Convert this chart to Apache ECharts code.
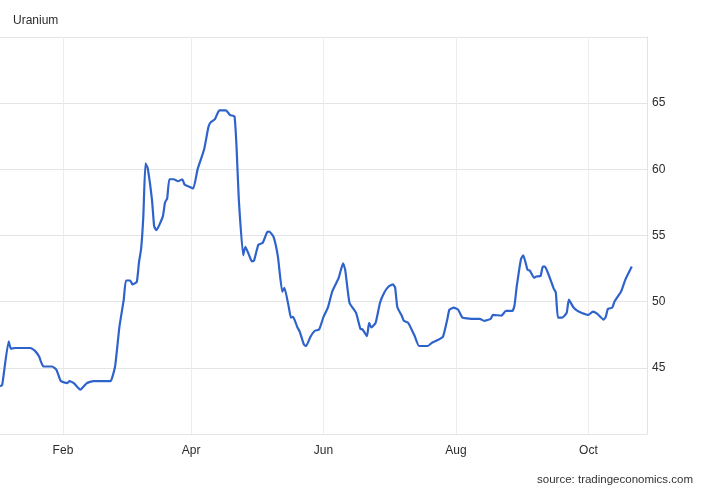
<!DOCTYPE html>
<html>
<head>
<meta charset="utf-8">
<script src="https://cdn.jsdelivr.net/npm/echarts@6/dist/echarts.min.js"></script>
<style>
html, body { margin: 0; padding: 0; background: #fff; }
#chart { width: 704px; height: 488px; }
</style>
</head>
<body>
<div id="chart"></div>
<script>
// uranium price
const dates = [
    '2022-01-03', '2022-01-04', '2022-01-07', '2022-01-08', '2022-01-10', '2022-01-17', '2022-01-19', '2022-01-21',
    '2022-01-23', '2022-01-27', '2022-01-29', '2022-01-31', '2022-02-03', '2022-02-04', '2022-02-06', '2022-02-09',
    '2022-02-12', '2022-02-15', '2022-02-22', '2022-02-23', '2022-02-25', '2022-02-27', '2022-03-01', '2022-03-02',
    '2022-03-04', '2022-03-05', '2022-03-07', '2022-03-08', '2022-03-09', '2022-03-10', '2022-03-11', '2022-03-12',
    '2022-03-14', '2022-03-15', '2022-03-16', '2022-03-19', '2022-03-20', '2022-03-21', '2022-03-22', '2022-03-24',
    '2022-03-26', '2022-03-28', '2022-03-29', '2022-03-31', '2022-04-02', '2022-04-04', '2022-04-07', '2022-04-09',
    '2022-04-10', '2022-04-12', '2022-04-14', '2022-04-17', '2022-04-19', '2022-04-21', '2022-04-22', '2022-04-23',
    '2022-04-25', '2022-04-26', '2022-04-28', '2022-04-29', '2022-04-30', '2022-05-02', '2022-05-04', '2022-05-06',
    '2022-05-07', '2022-05-09', '2022-05-11', '2022-05-13', '2022-05-14', '2022-05-16', '2022-05-17', '2022-05-18',
    '2022-05-20', '2022-05-21', '2022-05-23', '2022-05-24', '2022-05-26', '2022-05-28', '2022-05-30', '2022-06-01',
    '2022-06-03', '2022-06-05', '2022-06-07', '2022-06-08', '2022-06-10', '2022-06-11', '2022-06-13', '2022-06-16',
    '2022-06-18', '2022-06-19', '2022-06-21', '2022-06-22', '2022-06-23', '2022-06-25', '2022-06-27', '2022-06-29',
    '2022-07-01', '2022-07-03', '2022-07-04', '2022-07-05', '2022-07-07', '2022-07-08', '2022-07-10', '2022-07-12',
    '2022-07-13', '2022-07-15', '2022-07-19', '2022-07-21', '2022-07-23', '2022-07-26', '2022-07-28', '2022-07-29',
    '2022-07-31', '2022-08-02', '2022-08-04', '2022-08-08', '2022-08-12', '2022-08-14', '2022-08-17', '2022-08-18',
    '2022-08-22', '2022-08-24', '2022-08-27', '2022-08-28', '2022-08-29', '2022-08-31', '2022-09-01', '2022-09-03',
    '2022-09-04', '2022-09-06', '2022-09-07', '2022-09-09', '2022-09-10', '2022-09-11', '2022-09-13', '2022-09-15',
    '2022-09-16', '2022-09-17', '2022-09-19', '2022-09-21', '2022-09-22', '2022-09-24', '2022-09-26', '2022-09-28',
    '2022-10-01', '2022-10-03', '2022-10-05', '2022-10-08', '2022-10-09', '2022-10-10', '2022-10-12', '2022-10-13',
    '2022-10-16', '2022-10-18', '2022-10-21'
];
const prices = [
    43.6, 43.7, 47.0, 46.45, 46.5, 46.5, 46.3, 45.85,
    45.1, 45.1, 44.85, 44.0, 43.85, 44.0, 43.85, 43.35,
    43.85, 44.0, 44.0, 44.0, 45.1, 48.1, 50.15, 51.6,
    51.6, 51.3, 51.5, 52.95, 54.0, 56.4, 60.45, 60.1,
    57.7, 55.7, 55.4, 56.45, 57.5, 57.8, 59.25, 59.25,
    59.1, 59.25, 58.85, 58.7, 58.55, 60.0, 61.5, 63.2,
    63.55, 63.8, 64.45, 64.45, 64.1, 64.0, 61.5, 57.7,
    53.5, 54.15, 53.4, 53.05, 53.1, 54.3, 54.45, 55.25,
    55.3, 54.9, 53.4, 50.75, 51.05, 49.6, 48.8, 48.85,
    48.05, 47.75, 46.75, 46.65, 47.35, 47.8, 47.9, 48.85,
    49.55, 50.75, 51.45, 51.8, 52.9, 52.4, 49.9, 49.15,
    47.95, 47.9, 47.4, 48.4, 48.05, 48.4, 49.9, 50.7,
    51.15, 51.3, 51.05, 49.6, 48.95, 48.55, 48.4, 47.75,
    47.4, 46.65, 46.65, 46.9, 47.05, 47.35, 48.65, 49.4,
    49.55, 49.4, 48.8, 48.7, 48.7, 48.55, 48.7, 49.0,
    48.95, 49.3, 49.3, 49.75, 51.15, 53.25, 53.5, 52.4,
    52.35, 51.8, 51.9, 51.95, 52.65, 52.65, 51.9, 51.0,
    50.7, 48.8, 48.8, 49.15, 50.15, 49.6, 49.3, 49.15,
    49.0, 49.25, 49.1, 48.65, 48.85, 49.45, 49.55, 50.0,
    50.75, 51.65, 52.65
];
const monthTicks = ['2022-02-01', '2022-04-01', '2022-06-01', '2022-08-01', '2022-10-01'];
const monthLabels = ['Feb', 'Apr', 'Jun', 'Aug', 'Oct'];
const yTicks = [45, 50, 55, 60, 65];

const tickTimes = monthTicks.map(d => Date.parse(d));
const seriesData = dates.map((d, i) => [Date.parse(d), prices[i]]);

const chart = echarts.init(document.getElementById('chart'));
chart.setOption({
    animation: false,
    textStyle: { fontFamily: 'Liberation Sans, Arial, sans-serif' },
    title: [
        {
            text: 'Uranium',
            left: 8,
            top: 10,
            textStyle: { fontSize: 12, fontWeight: 'normal', color: '#2b2b2b' }
        },
        {
            text: 'source: tradingeconomics.com',
            right: 6,
            top: 469,
            textStyle: { fontSize: 11.5, fontWeight: 'normal', color: '#333' }
        }
    ],
    grid: {
        left: 0,
        right: 57,
        top: 37,
        bottom: 54
    },
    xAxis: {
        type: 'value',
        min: Date.parse('2022-01-03'),
        max: Date.parse('2022-10-28'),
        axisLine: { show: true, lineStyle: { color: '#e4e4e4' } },
        axisTick: { show: false, customValues: tickTimes },
        axisLabel: {
            customValues: tickTimes,
            margin: 11,
            fontSize: 12,
            color: '#2b2b2b',
            formatter: function (v) {
                let i = tickTimes.indexOf(v);
                return i >= 0 ? monthLabels[i] : '';
            }
        },
        splitLine: { show: true, lineStyle: { color: '#ececec' } }
    },
    yAxis: {
        type: 'value',
        position: 'right',
        min: 40,
        max: 70,
        interval: 5,
        axisLine: { show: true, lineStyle: { color: '#e4e4e4' } },
        axisTick: { show: false },
        axisLabel: {
            margin: 5,
            fontSize: 12,
            color: '#2b2b2b',
            verticalAlign: 'middle',
            padding: [6, 0, 0, 0],
            formatter: function (v) {
                return yTicks.indexOf(v) >= 0 ? String(v) : '';
            }
        },
        splitLine: { show: true, lineStyle: { color: '#e4e4e4' } }
    },
    series: [{
        name: 'Uranium',
        type: 'line',
        data: seriesData,
        smooth: 0.15,
        showSymbol: false,
        lineStyle: { color: '#2f63cc', width: 2.2 }
    }]
});
</script>
</body>
</html>
